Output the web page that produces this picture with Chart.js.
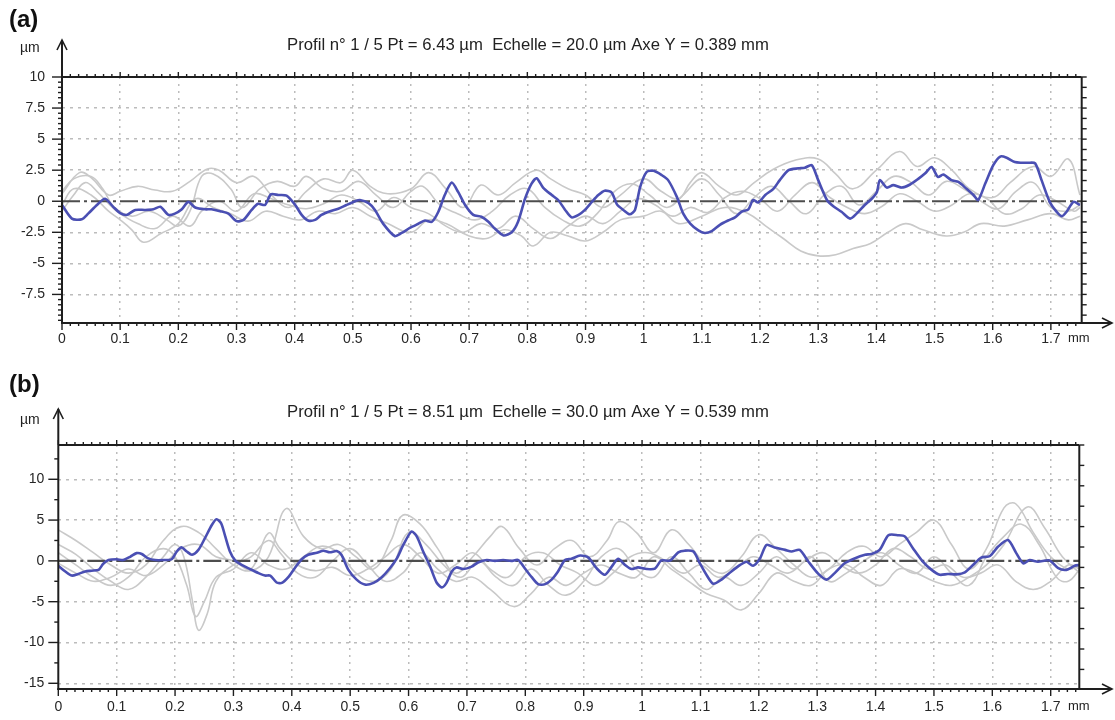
<!DOCTYPE html>
<html>
<head>
<meta charset="utf-8">
<script src="https://cdn.jsdelivr.net/npm/chart.js@4.4.0/dist/chart.umd.min.js"></script>
<style>
  html, body { margin: 0; padding: 0; background: #fff; }
  #wrap { position: relative; width: 1115px; height: 720px; overflow: hidden; }
  #wrap canvas { position: absolute; left: 0; }
  #profA { top: 0; }
  #profB { top: 360px; }
</style>
</head>
<body>
<div id="wrap">
  <canvas id="profA" width="1115" height="360"></canvas>
  <canvas id="profB" width="1115" height="360"></canvas>
</div>
<script>
// ---- axis ticks ----
const xTickValues = [0, 0.1, 0.2, 0.3, 0.4, 0.5, 0.6, 0.7, 0.8, 0.9, 1.0, 1.1, 1.2, 1.3, 1.4, 1.5, 1.6, 1.7];
const yTicksA = [10, 7.5, 5, 2.5, 0, -2.5, -5, -7.5];
const yTicksB = [10, 5, 0, -5, -10, -15];

// ---- profile (a): highlighted profile, position in mm / height in µm ----
const profA_x = [0.000,0.017,0.034,0.045,0.060,0.074,0.088,0.100,0.111,0.126,
  0.143,0.157,0.169,0.183,0.194,0.206,0.217,0.229,0.246,0.257,
  0.272,0.286,0.300,0.312,0.326,0.337,0.349,0.359,0.372,0.386,
  0.401,0.412,0.423,0.435,0.446,0.461,0.475,0.489,0.504,0.512,
  0.527,0.538,0.552,0.572,0.584,0.598,0.613,0.624,0.636,0.647,
  0.658,0.670,0.681,0.693,0.707,0.721,0.733,0.744,0.759,0.773,
  0.784,0.796,0.807,0.816,0.827,0.842,0.853,0.865,0.876,0.888,
  0.899,0.911,0.922,0.933,0.945,0.954,0.965,0.976,0.985,0.994,
  1.005,1.017,1.031,1.042,1.057,1.068,1.080,1.094,1.105,1.117,
  1.131,1.145,1.157,1.168,1.180,1.188,1.197,1.209,1.223,1.234,
  1.249,1.266,1.277,1.289,1.300,1.315,1.326,1.340,1.355,1.366,
  1.380,1.392,1.401,1.406,1.418,1.429,1.443,1.458,1.472,1.484,
  1.495,1.506,1.515,1.529,1.541,1.555,1.567,1.575,1.587,1.601,
  1.613,1.624,1.638,1.650,1.661,1.673,1.684,1.698,1.710,1.719,
  1.727,1.739,1.750];
const profA_y = [-0.3,-1.4,-1.45,-1.0,-0.3,0.2,-0.45,-0.95,-1.1,-0.7,
  -0.7,-0.65,-0.45,-1.1,-1.0,-0.65,-0.05,-0.5,-0.65,-0.65,
  -0.8,-1.0,-1.6,-1.5,-0.7,-0.2,-0.3,0.55,0.5,0.45,
  -0.3,-1.1,-1.55,-1.5,-1.1,-0.8,-0.6,-0.3,0.0,0.1,
  -0.15,-0.7,-1.8,-2.8,-2.55,-2.15,-1.8,-1.55,-1.65,-0.85,
  0.5,1.5,0.75,-0.3,-1.1,-1.25,-1.65,-2.2,-2.75,-2.5,
  -1.65,0.2,1.4,1.85,1.1,0.5,0.1,-0.7,-1.3,-1.1,
  -0.7,-0.05,0.5,0.85,0.7,-0.25,-0.7,-1.05,-0.7,1.15,
  2.35,2.45,2.1,1.7,0.35,-1.0,-1.8,-2.35,-2.55,-2.4,
  -1.9,-1.55,-1.3,-0.85,-0.65,0.1,-0.1,0.5,1.0,1.7,
  2.5,2.65,2.7,2.9,1.7,0.1,-0.4,-0.85,-1.4,-1.0,
  -0.3,0.2,0.75,1.7,1.1,1.3,1.1,1.35,1.8,2.25,
  2.75,1.95,2.15,1.7,1.55,1.0,0.5,0.1,1.4,2.9,
  3.6,3.5,3.15,3.1,3.1,3.05,1.7,-0.05,-0.85,-1.2,
  -0.85,-0.05,-0.3];

// ---- profile (a): the other four profiles ----
const profA1_x = [0,0.03,0.05,0.08,0.1,0.13,0.16,0.19,0.22,0.25,
  0.27,0.3,0.33,0.36,0.39,0.42,0.45,0.48,0.5,0.53,
  0.56,0.6,0.63,0.66,0.69,0.72,0.75,0.78,0.815,0.84,
  0.87,0.9,0.93,0.96,1.0,1.03,1.06,1.08,1.1,1.13,
  1.16,1.19,1.22,1.26,1.3,1.33,1.36,1.4,1.44,1.47,
  1.5,1.53,1.56,1.6,1.63,1.67,1.7,1.73,1.75];
const profA1_y = [0.6,2.3,1.9,0.5,0.8,1.2,0.9,0.8,1.6,2.6,
  2.5,1.5,2.0,0.5,-0.5,0.8,1.8,1.5,2.5,1.2,
  0.6,1.0,2.3,1.0,-0.5,1.3,0.5,1.5,2.5,1.8,
  1.0,0.5,-0.5,0.5,1.8,0.8,0.2,1.5,2.3,1.2,
  0.5,1.5,2.5,3.3,3.4,2.2,1.0,2.5,4.0,2.8,
  3.5,2.5,1.0,0.3,1.5,2.8,2.0,3.4,0.5];

const profA2_x = [0,0.02,0.05,0.08,0.1,0.12,0.14,0.17,0.2,0.23,
  0.26,0.29,0.32,0.35,0.38,0.41,0.44,0.47,0.5,0.53,
  0.56,0.6,0.63,0.66,0.7,0.73,0.76,0.79,0.81,0.84,
  0.87,0.9,0.93,0.96,1.0,1.03,1.06,1.1,1.14,1.18,
  1.21,1.24,1.27,1.3,1.33,1.36,1.39,1.42,1.45,1.48,
  1.52,1.55,1.58,1.62,1.66,1.7,1.73,1.75];
const profA2_y = [-0.3,1.0,0.5,-0.8,-1.5,-2.3,-3.3,-2.6,-1.8,0.2,
  -0.5,-1.0,-1.6,-0.8,-1.2,-1.5,-0.8,-1.0,-0.5,-1.2,
  -1.8,-2.5,-1.5,-1.8,-2.8,-3.0,-2.3,-2.8,-3.6,-2.5,
  -2.8,-3.2,-2.5,-1.5,-1.2,-0.8,-1.8,-1.2,-0.5,-1.0,
  -2.0,-3.0,-4.0,-4.4,-4.3,-3.8,-3.4,-2.5,-1.8,-2.3,
  -2.8,-2.5,-1.8,-2.0,-1.5,-1.0,-1.5,-1.2];

const profA3_x = [0,0.02,0.05,0.07,0.09,0.12,0.15,0.18,0.2,0.22,
  0.24,0.26,0.29,0.31,0.34,0.37,0.4,0.42,0.45,0.48,
  0.51,0.54,0.57,0.6,0.62,0.65,0.68,0.71,0.74,0.77,
  0.8,0.83,0.86,0.89,0.92,0.95,0.98,1.01,1.04,1.07,
  1.1,1.13,1.16,1.19,1.22,1.25,1.28,1.31,1.34,1.37,
  1.4,1.43,1.46,1.49,1.52,1.55,1.58,1.61,1.64,1.67,
  1.7,1.73,1.75];
const profA3_y = [0.8,1.8,2.0,1.0,-0.5,-1.2,-0.8,-1.5,-2.0,-0.8,
  2.0,2.2,1.0,-0.5,1.0,1.6,1.2,2.0,1.0,0.8,
  1.6,0.5,-0.5,0.8,1.2,-0.3,-1.0,-1.5,-0.8,0.5,
  1.0,-0.5,-1.5,-2.0,-1.0,0.8,1.4,0.5,-0.5,0.6,
  1.8,0.5,-1.0,0.3,1.2,0.0,-1.0,0.5,1.2,-0.3,
  0.8,2.0,1.5,0.5,1.6,1.0,0.0,-0.6,0.8,1.5,
  -0.5,-0.8,-0.3];

const profA4_x = [0,0.02,0.04,0.06,0.08,0.1,0.13,0.16,0.19,0.22,
  0.24,0.27,0.3,0.33,0.36,0.39,0.42,0.45,0.48,0.51,
  0.54,0.57,0.6,0.63,0.66,0.69,0.72,0.75,0.78,0.81,
  0.84,0.87,0.9,0.93,0.96,0.99,1.02,1.05,1.08,1.11,
  1.14,1.17,1.2,1.23,1.26,1.29,1.32,1.35,1.38,1.41,
  1.44,1.47,1.5,1.53,1.56,1.59,1.62,1.65,1.68,1.71,
  1.74,1.75];
const profA4_y = [-0.8,0.5,1.5,0.8,-0.2,-1.0,-1.8,-2.2,-1.2,-2.0,
  -0.8,0.0,-0.8,0.6,0.2,-0.3,-0.6,-0.2,0.5,0.0,
  -0.8,0.3,-0.5,-1.0,-2.0,-2.5,-1.8,-2.2,-1.2,-2.2,
  -3.0,-2.0,-1.2,-1.8,-0.8,0.2,-0.3,-1.2,-0.5,-0.9,
  0.3,0.8,0.2,-0.8,0.5,1.5,0.3,-0.5,-1.0,-0.4,
  0.6,0.0,-0.8,-0.3,0.6,0.2,-1.0,-0.6,0.5,0.0,
  -0.8,-0.5];

// ---- profile (b): highlighted profile ----
const profB_x = [0.000,0.012,0.023,0.034,0.046,0.057,0.069,0.077,0.086,0.100,
  0.111,0.123,0.134,0.143,0.154,0.166,0.180,0.194,0.203,0.211,
  0.220,0.229,0.240,0.251,0.263,0.271,0.279,0.286,0.294,0.303,
  0.314,0.328,0.343,0.354,0.363,0.374,0.383,0.394,0.405,0.417,
  0.428,0.443,0.454,0.465,0.477,0.485,0.497,0.511,0.525,0.540,
  0.554,0.568,0.580,0.591,0.605,0.614,0.625,0.637,0.648,0.657,
  0.665,0.674,0.682,0.694,0.708,0.719,0.734,0.748,0.762,0.776,
  0.788,0.799,0.811,0.822,0.834,0.845,0.856,0.868,0.879,0.894,
  0.908,0.922,0.936,0.948,0.959,0.971,0.982,0.993,1.008,1.022,
  1.033,1.048,1.062,1.073,1.088,1.099,1.111,1.122,1.136,1.153,
  1.168,1.179,1.190,1.202,1.213,1.227,1.245,1.256,1.270,1.285,
  1.302,1.316,1.330,1.347,1.364,1.382,1.393,1.407,1.422,1.439,
  1.450,1.464,1.481,1.496,1.510,1.524,1.539,1.553,1.567,1.581,
  1.596,1.610,1.627,1.641,1.653,1.664,1.678,1.698,1.713,1.727,
  1.741,1.750];
const profB_y = [-0.6,-1.3,-1.8,-1.6,-1.3,-1.2,-1.1,-0.35,0.1,0.2,
  0.1,0.5,0.95,0.85,0.3,0.1,0.1,0.2,1.15,1.65,
  1.15,0.75,1.35,2.75,4.4,5.1,4.6,3.0,1.15,0.05,
  -0.5,-1.0,-1.5,-1.8,-1.8,-2.65,-2.7,-2.0,-0.9,0.2,
  0.75,1.0,1.25,1.05,1.2,0.75,-1.1,-2.3,-2.9,-2.7,
  -2.0,-0.9,0.3,1.95,3.6,3.0,1.15,-0.7,-2.65,-3.25,
  -2.7,-1.3,-0.8,-1.0,-0.7,-0.2,0.1,0.0,0.1,0.0,
  0.1,-0.9,-2.0,-2.85,-2.85,-2.3,-1.3,0.1,0.25,0.65,
  0.4,-0.9,-1.7,-0.7,0.25,-0.5,-1.0,-0.8,-1.0,-0.95,
  0.05,0.05,1.05,1.25,1.15,-0.3,-1.8,-2.8,-2.3,-1.3,
  -0.5,-0.1,-0.6,0.3,1.95,1.65,1.35,1.15,1.35,-0.1,
  -1.6,-2.3,-1.5,-0.3,0.3,0.75,0.85,1.35,3.15,3.15,
  3.0,1.55,-0.1,-1.1,-1.7,-1.6,-1.65,-1.4,-0.5,0.4,
  0.6,1.75,2.55,0.95,-0.3,0.1,-0.1,0.05,-0.9,-1.1,
  -0.6,-0.5];

// ---- profile (b): the other four profiles ----
const profB1_x = [0,0.03,0.06,0.09,0.12,0.15,0.18,0.21,0.24,0.27,
  0.3,0.33,0.36,0.39,0.42,0.45,0.48,0.51,0.54,0.57,
  0.59,0.62,0.65,0.68,0.71,0.74,0.76,0.79,0.82,0.85,
  0.88,0.91,0.94,0.96,0.99,1.02,1.05,1.08,1.11,1.14,
  1.17,1.2,1.23,1.26,1.29,1.32,1.35,1.38,1.41,1.44,
  1.47,1.5,1.53,1.56,1.59,1.62,1.64,1.67,1.7,1.73,
  1.75];
const profB1_y = [3.8,2.5,1.0,-0.5,-1.5,-0.5,2.5,4.2,3.5,1.5,
  -0.5,-1.2,0.5,6.4,3.0,1.5,2.0,0.5,-1.0,2.5,
  5.6,4.5,1.5,-1.5,0.5,3.0,4.2,1.5,-0.5,1.5,
  2.5,0.5,2.5,4.8,3.5,1.0,3.8,2.0,-0.5,-1.5,
  0.5,3.2,1.5,-0.5,-2.0,-1.0,1.0,1.8,0.5,2.0,
  3.5,5.0,2.0,-1.0,1.5,6.5,7.0,3.5,0.5,-1.0,
  -0.5];

const profB2_x = [0,0.03,0.06,0.09,0.12,0.15,0.18,0.2,0.215,0.23,
  0.24,0.255,0.27,0.3,0.33,0.36,0.38,0.41,0.44,0.47,
  0.5,0.53,0.56,0.59,0.62,0.65,0.68,0.71,0.74,0.78,
  0.81,0.84,0.87,0.9,0.93,0.96,0.99,1.02,1.05,1.08,
  1.11,1.14,1.17,1.2,1.23,1.26,1.29,1.32,1.35,1.38,
  1.41,1.44,1.47,1.5,1.53,1.56,1.59,1.62,1.66,1.69,
  1.72,1.75];
const profB2_y = [2.0,0.8,-1.0,-2.5,-3.5,-2.0,0.5,2.0,0.5,-5.0,
  -8.5,-6.5,-2.5,-0.5,0.5,2.5,1.0,-1.5,-2.0,0.0,
  1.5,-0.5,-2.5,-1.5,1.0,-1.0,-2.5,-2.0,-3.5,-5.6,
  -4.0,-2.0,-3.0,-1.5,-0.5,-1.5,-2.0,0.5,-1.0,-2.5,
  -4.0,-4.8,-6.0,-4.0,-1.5,-2.5,-3.0,-1.0,-0.5,-2.0,
  -3.0,-1.0,-1.5,-2.5,-3.0,-2.0,-0.5,2.0,6.6,4.0,
  0.5,-1.5];

const profB3_x = [0,0.03,0.06,0.09,0.12,0.15,0.18,0.2,0.22,0.235,
  0.25,0.27,0.3,0.33,0.36,0.39,0.42,0.45,0.48,0.51,
  0.54,0.57,0.6,0.63,0.66,0.69,0.72,0.75,0.78,0.81,
  0.84,0.87,0.9,0.93,0.96,0.99,1.02,1.05,1.08,1.11,
  1.14,1.17,1.2,1.23,1.26,1.29,1.32,1.35,1.38,1.41,
  1.44,1.47,1.5,1.53,1.56,1.59,1.62,1.65,1.68,1.71,
  1.73,1.75];
const profB3_y = [1.0,-0.5,-2.0,-3.0,-2.0,0.5,1.5,0.5,-3.0,-6.8,
  -5.0,-2.0,-1.0,1.0,-0.5,-1.0,0.5,1.8,1.0,-1.5,
  -2.5,-1.0,3.5,2.0,-0.5,-2.0,0.0,-2.0,-3.0,-1.0,
  -3.0,-4.2,-2.5,0.5,1.5,-1.0,-2.0,0.5,-1.5,-3.5,
  -2.0,-3.0,-1.5,0.5,-1.0,0.5,-2.5,-1.5,0.0,1.0,
  -0.5,-1.5,0.5,-1.5,-3.0,0.5,3.0,4.5,2.0,-2.0,
  -2.5,-1.0];

const profB4_x = [0,0.03,0.06,0.09,0.12,0.15,0.18,0.21,0.24,0.27,
  0.3,0.33,0.36,0.38,0.41,0.44,0.47,0.5,0.53,0.56,
  0.59,0.62,0.65,0.68,0.71,0.74,0.77,0.8,0.83,0.86,
  0.89,0.92,0.95,0.98,1.01,1.04,1.07,1.1,1.13,1.16,
  1.19,1.22,1.25,1.28,1.31,1.34,1.37,1.4,1.43,1.46,
  1.49,1.52,1.55,1.58,1.61,1.64,1.67,1.7,1.73,1.75];
const profB4_y = [-0.3,-1.5,-2.5,-2.0,-1.0,-1.8,-0.5,1.5,2.0,0.5,
  0.0,-1.0,3.4,1.5,-0.5,-1.2,-0.8,-1.8,-1.0,0.5,
  2.0,0.5,-1.5,-0.5,1.0,-1.0,-2.0,0.5,1.0,-0.5,
  -1.5,-3.0,-1.5,0.5,1.0,0.0,-1.5,-0.5,-2.0,-1.0,
  0.5,-0.5,-1.5,0.0,1.0,-0.5,-1.5,-0.5,1.5,0.5,
  -1.0,-0.5,-2.0,-1.5,-0.5,-2.5,-3.5,-2.5,-0.5,-1.0];

// ---- drawing helpers ----
const FONT = '"Liberation Sans", Arial, sans-serif';
const BLUE = '#4a4fb3';
const GREY = '#c9c9c9';

function pts(xs, ys) { return xs.map((v, i) => ({ x: v, y: ys[i] })); }

function fmtMM(v) { return v === 0 ? '0' : String(+v.toFixed(1)); }

// frame, axis arrows, minor ticks, zero reference line and captions
const profileFrame = {
  id: 'profileFrame',
  beforeDraw(chart) {
    const c = chart.ctx;
    c.save(); c.fillStyle = '#fff'; c.fillRect(0, 0, chart.width, chart.height); c.restore();
  },
  beforeDatasetDraw(chart, args) {
    if (args.index !== 0) return;
    const { ctx, chartArea: a, scales: { y } } = chart;
    const y0 = y.getPixelForValue(0);
    ctx.save();
    ctx.beginPath(); ctx.rect(a.left, a.top, a.width, a.height); ctx.clip();
    ctx.strokeStyle = '#4d4d4d'; ctx.lineWidth = 2.2; ctx.setLineDash([18, 4, 3, 4]);
    ctx.beginPath(); ctx.moveTo(a.left, y0); ctx.lineTo(a.right, y0); ctx.stroke();
    ctx.restore();
  },
  afterDraw(chart, args, o) {
    const { ctx, chartArea: a, scales: { x, y } } = chart;
    const seg = (x1, y1, x2, y2) => { ctx.beginPath(); ctx.moveTo(x1, y1); ctx.lineTo(x2, y2); ctx.stroke(); };
    ctx.save();
    ctx.setLineDash([]);
    ctx.strokeStyle = '#1e1e1e';
    ctx.lineCap = 'butt';

    // ticks along top and bottom (7 per 0.1 mm)
    ctx.lineWidth = 1.4;
    const sub = 0.1 / 7;
    for (let i = 0; i * sub <= x.max + 1e-9; i++) {
      const px = x.getPixelForValue(i * sub);
      const major = i % 7 === 0;
      seg(px, a.bottom, px, a.bottom + (major ? 7 : 3));
      seg(px, a.top, px, a.top - (major ? 5 : 3));
    }
    // left ticks
    const kl0 = Math.ceil(y.min / o.leftStep - 1e-6), kl1 = Math.floor(y.max / o.leftStep + 1e-6);
    for (let k = kl0; k <= kl1; k++) {
      const v = k * o.leftStep;
      const major = Math.abs(v / o.majorStep - Math.round(v / o.majorStep)) < 1e-6;
      const py = y.getPixelForValue(v);
      seg(a.left - (major ? 10 : 4), py, a.left, py);
    }
    // right ticks
    const kr0 = Math.ceil((y.min - y.max) / o.rightStep - 1e-6);
    for (let k = 0; k >= kr0; k--) {
      const py = y.getPixelForValue(y.max + k * o.rightStep);
      seg(a.right, py, a.right + 5, py);
    }

    // frame and axes
    ctx.lineWidth = 2;
    seg(a.left, a.top, a.right, a.top);
    seg(a.right, a.top, a.right, a.bottom);
    seg(a.left, a.bottom + 1, a.left, o.arrowTop);
    seg(a.left - 1, a.bottom, o.arrowRight, a.bottom);
    ctx.lineWidth = 1.6;
    ctx.beginPath();
    ctx.moveTo(a.left - 5, o.arrowTop + 10); ctx.lineTo(a.left, o.arrowTop); ctx.lineTo(a.left + 5, o.arrowTop + 10);
    ctx.stroke();
    ctx.beginPath();
    ctx.moveTo(o.arrowRight - 10, a.bottom - 5); ctx.lineTo(o.arrowRight, a.bottom); ctx.lineTo(o.arrowRight - 10, a.bottom + 5);
    ctx.stroke();

    // captions
    ctx.fillStyle = '#111';
    ctx.textBaseline = 'middle';
    ctx.textAlign = 'left';
    ctx.font = 'bold 24px ' + FONT;
    ctx.fillText(o.tag, 9, o.tagY);

    ctx.fillStyle = '#222';
    ctx.font = '13px ' + FONT;
    const w13 = ctx.measureText(o.title).width;
    const fs = 13 * o.titleWidth / w13;
    ctx.font = fs.toFixed(2) + 'px ' + FONT;
    ctx.textAlign = 'center';
    ctx.fillText(o.title, o.titleX, o.titleY);

    ctx.textAlign = 'left';
    ctx.font = '14px ' + FONT;
    ctx.fillText('µm', 20, o.unitY);
    ctx.font = '13px ' + FONT;
    ctx.fillText('mm', 1068, a.bottom + o.xLabelPad + 7);
    ctx.restore();
  }
};

function buildChart(canvasId, main, others, yMin, yMax, yTicks, frame) {
  const datasets = [{
    data: main, borderColor: BLUE, borderWidth: 2.6, tension: 0.25, pointRadius: 0
  }].concat(others.map(d => ({
    data: d, borderColor: GREY, borderWidth: 1.6, tension: 0.4, pointRadius: 0
  })));

  return new Chart(document.getElementById(canvasId), {
    type: 'line',
    data: { datasets },
    plugins: [profileFrame],
    options: {
      responsive: false,
      animation: false,
      devicePixelRatio: 1,
      layout: { padding: { left: 0, top: frame.top, right: frame.right, bottom: 0 } },
      plugins: {
        legend: { display: false },
        tooltip: { enabled: false },
        profileFrame: frame
      },
      scales: {
        x: {
          type: 'linear', min: 0, max: frame.xMax,
          afterFit(s) { s.height = frame.xAxisHeight; },
          afterBuildTicks(s) { s.ticks = xTickValues.map(v => ({ value: v })); },
          ticks: {
            padding: frame.xLabelPad, maxRotation: 0, autoSkip: false,
            color: '#262626', font: { family: FONT, size: 14 },
            callback: v => fmtMM(v)
          },
          grid: {
            drawTicks: false,
            lineWidth: 1.5,
            color: c => (c.tick && c.tick.value === 0) ? 'rgba(0,0,0,0)' : '#bcbcbc'
          },
          border: { display: false, dash: [2, 5] }
        },
        y: {
          type: 'linear', min: yMin, max: yMax,
          afterFit(s) { s.width = frame.left; },
          afterBuildTicks(s) { s.ticks = yTicks.map(v => ({ value: v })); },
          ticks: {
            padding: frame.yLabelPad, autoSkip: false,
            color: '#262626', font: { family: FONT, size: 14 },
            callback: v => String(v)
          },
          grid: {
            drawTicks: false,
            lineWidth: 1.5,
            color: c => (c.tick && (c.tick.value === 0 || c.tick.value === yMax)) ? 'rgba(0,0,0,0)' : '#bcbcbc'
          },
          border: { display: false, dash: [3, 5] }
        }
      }
    }
  });
}

buildChart('profA',
  pts(profA_x, profA_y),
  [pts(profA1_x, profA1_y), pts(profA2_x, profA2_y), pts(profA3_x, profA3_y), pts(profA4_x, profA4_y)],
  -9.8, 10, yTicksA,
  {
    tag: '(a)', tagY: 20,
    title: 'Profil n° 1 / 5 Pt = 6.43 µm  Echelle = 20.0 µm Axe Y = 0.389 mm',
    titleX: 528, titleY: 45, titleWidth: 482, unitY: 48,
    top: 77, right: 33.3, left: 62, xAxisHeight: 37, xLabelPad: 8, yLabelPad: 17,
    xMax: 1.753, arrowTop: 40, arrowRight: 1112,
    leftStep: 2.5 / 6, majorStep: 2.5, rightStep: 2.5 / 3
  });

buildChart('profB',
  pts(profB_x, profB_y),
  [pts(profB1_x, profB1_y), pts(profB2_x, profB2_y), pts(profB3_x, profB3_y), pts(profB4_x, profB4_y)],
  -15.7, 14.2, yTicksB,
  {
    tag: '(b)', tagY: 25,
    title: 'Profil n° 1 / 5 Pt = 8.51 µm  Echelle = 30.0 µm Axe Y = 0.539 mm',
    titleX: 528, titleY: 52, titleWidth: 482, unitY: 60,
    top: 85, right: 35.7, left: 58.3, xAxisHeight: 31, xLabelPad: 10, yLabelPad: 14,
    xMax: 1.749, arrowTop: 49, arrowRight: 1112,
    leftStep: 2.5, majorStep: 5, rightStep: 2.5
  });
</script>
</body>
</html>
